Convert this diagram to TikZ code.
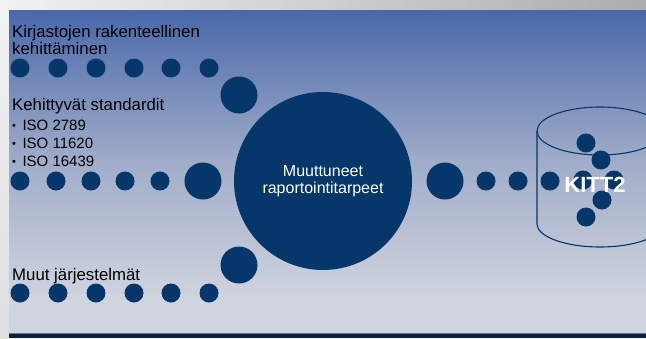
\documentclass[tikz,border=0pt]{standalone}
\usepackage{fontspec}
\setmainfont{Liberation Sans}
\definecolor{navy}{RGB}{5,55,107}
\definecolor{navydark}{RGB}{10,30,72}
\definecolor{slidetop}{RGB}{72,104,170}
\definecolor{slidebot}{RGB}{208,212,222}
\definecolor{slidemid}{RGB}{160,172,200}
\definecolor{bandline}{RGB}{100,115,150}
\tikzset{
  dot/.style={circle, fill=navy, minimum size=19pt, inner sep=0pt},
  bigdot/.style={circle, fill=navy, minimum size=37pt, inner sep=0pt},
  hub/.style={circle, fill=navy, minimum size=178pt, inner sep=0pt, text=white, align=center, font=\fontsize{16pt}{16.5pt}\selectfont},
  heading/.style={anchor=base west, inner sep=0pt, font=\fontsize{16.8pt}{16.8pt}\selectfont, text=black},
  bullet/.style={anchor=base west, inner sep=0pt, font=\fontsize{15pt}{15pt}\selectfont, text=black},
  cyl/.style={draw=navy, line width=1.1pt},
}
\newcommand{\smallbul}{\raisebox{1pt}{\fontsize{11pt}{11pt}\selectfont •}\hspace{6.5pt}}
\begin{document}
\begin{tikzpicture}[x=1pt,y=-1pt]
\useasboundingbox (0,0) rectangle (646,338);
\clip (0,0) rectangle (646,338);
% outer frame
\shade[left color=gray!10, right color=gray!65] (0,0) rectangle (646,10);
\shade[top color=gray!10, bottom color=gray!25] (0,10) rectangle (9,338);
% slide background
\shade[top color=slidetop, bottom color=slidemid] (9,10) rectangle (646,160);
\shade[top color=slidemid, bottom color=slidebot] (9,160) rectangle (646,300);
\fill[slidebot] (9,300) rectangle (646,333);
\fill[bandline] (9,332.5) rectangle (646,334);
\fill[navydark] (9,334) rectangle (646,338);

% texts
\node[heading] (t1) at (12,37) {Kirjastojen rakenteellinen};
\node[heading] (t2) at (12,54) {kehittäminen};
\node[heading] (t3) at (12,110) {Kehittyvät standardit};
\node[bullet] (b1) at (12,130) {\smallbul ISO 2789};
\node[bullet] (b2) at (12,148) {\smallbul ISO 11620};
\node[bullet] (b3) at (12,166) {\smallbul ISO 16439};
\node[heading] (t4) at (12,280) {Muut järjestelmät};

% row 1
\foreach \x [count=\i] in {20,58,96,134,171,209} \node[dot] (r1\i) at (\x,68) {};
\node[bigdot] (r1big) at (239,95) {};
% row 2
\foreach \x [count=\i] in {20,56,91,125,160} \node[dot] (r2\i) at (\x,181) {};
\node[bigdot] (r2big) at (203,181) {};
% row 3
\foreach \x [count=\i] in {20,58,96,134,171,209} \node[dot] (r3\i) at (\x,293) {};
\node[bigdot] (r3big) at (239,265) {};

% hub
\node[hub] (hub) at (323,181) {Muuttuneet\\raportointitarpeet};

% right row
\node[bigdot] (rbig) at (445,181) {};
\node[dot] (rr1) at (486,181) {};
\node[dot] (rr2) at (518,181) {};
\node[dot] (rr3) at (550,181) {};

% cylinder
\draw[cyl] (600,131) ellipse [x radius=63, y radius=24];
\draw[cyl] (537,131) -- (537,224) arc[start angle=180, end angle=360, x radius=63, y radius=-23] -- (663,131);

% dots in cylinder
\node[dot] (c1) at (586,143) {};
\node[dot] (c2) at (601,160) {};
\node[dot] (c3) at (583,180) {};
\node[dot] (c4) at (614,180) {};
\node[dot] (c5) at (602,200) {};
\node[dot] (c6) at (586,217) {};
\node[anchor=base, inner sep=0pt, text=white, font=\fontsize{22pt}{22pt}\selectfont\bfseries] (kitt) at (595,192) {KITT2};
\end{tikzpicture}
\end{document}
